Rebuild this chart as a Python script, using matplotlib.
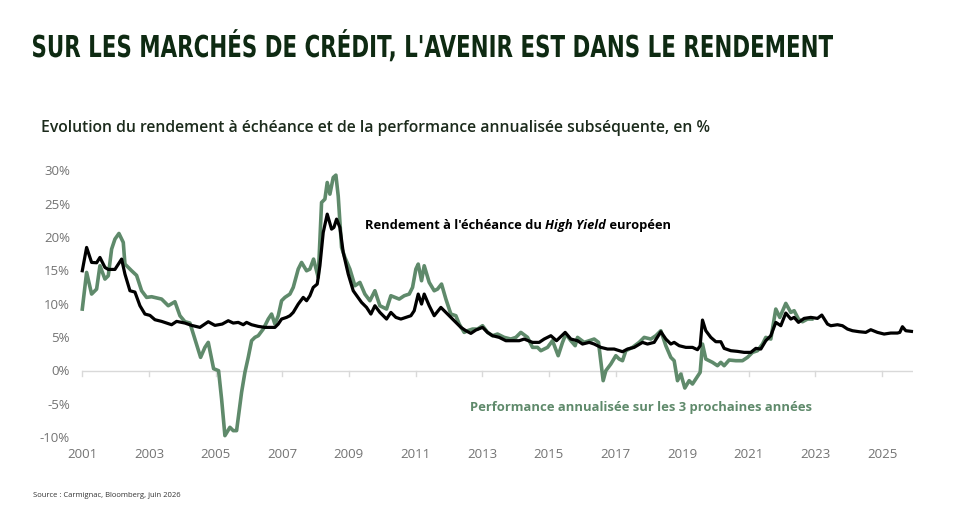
import matplotlib
matplotlib.use("Agg")
import matplotlib.pyplot as plt
from matplotlib.textpath import TextPath
from matplotlib.patches import PathPatch
from matplotlib.font_manager import FontProperties
from matplotlib.transforms import Affine2D, IdentityTransform

# -----------------------------
# DATA (decimal years / %)
# -----------------------------
yield_dates = [2001.0, 2001.13, 2001.28, 2001.43, 2001.53, 2001.68, 2001.78, 2001.98, 2002.18, 2002.28,
               2002.43, 2002.58, 2002.73, 2002.88, 2003.03, 2003.18, 2003.38, 2003.68, 2003.83, 2004.08,
               2004.28, 2004.53, 2004.78, 2004.98, 2005.2, 2005.38, 2005.53, 2005.68, 2005.83, 2005.93,
               2006.08, 2006.28, 2006.48, 2006.78, 2006.88, 2006.98, 2007.13, 2007.23, 2007.33, 2007.48,
               2007.63, 2007.73, 2007.83, 2007.93, 2008.05, 2008.13, 2008.23, 2008.35, 2008.48, 2008.55,
               2008.63, 2008.73, 2008.83, 2008.98, 2009.13, 2009.31, 2009.38, 2009.53, 2009.66, 2009.78,
               2009.93, 2010.13, 2010.26, 2010.41, 2010.56, 2010.71, 2010.86, 2010.96, 2011.08, 2011.18,
               2011.26, 2011.41, 2011.56, 2011.76, 2011.96, 2012.16, 2012.36, 2012.51, 2012.66, 2012.81,
               2013.01, 2013.16, 2013.31, 2013.51, 2013.71, 2013.91, 2014.11, 2014.26, 2014.51, 2014.71,
               2014.86, 2015.06, 2015.23, 2015.49, 2015.66, 2015.86, 2016.01, 2016.21, 2016.36, 2016.56,
               2016.76, 2016.96, 2017.21, 2017.36, 2017.56, 2017.81, 2017.96, 2018.16, 2018.36, 2018.51,
               2018.66, 2018.76, 2018.91, 2019.11, 2019.31, 2019.46, 2019.54, 2019.61, 2019.71, 2019.86,
               2020.01, 2020.16, 2020.26, 2020.46, 2020.66, 2020.86, 2021.06, 2021.21, 2021.36, 2021.51,
               2021.66, 2021.81, 2021.96, 2022.11, 2022.26, 2022.36, 2022.49, 2022.66, 2022.86, 2023.06,
               2023.19, 2023.36, 2023.46, 2023.66, 2023.81, 2023.96, 2024.11, 2024.31, 2024.51, 2024.66,
               2024.86, 2025.06, 2025.26, 2025.46, 2025.53, 2025.61, 2025.71, 2025.88]
yield_vals = [15.0, 18.5, 16.25, 16.2, 17.0, 15.5, 15.2, 15.2, 16.75, 14.5,
              12.0, 11.8, 9.75, 8.5, 8.3, 7.65, 7.4, 6.9, 7.4, 7.15,
              6.8, 6.5, 7.35, 6.8, 7.0, 7.5, 7.15, 7.25, 6.9, 7.25,
              6.9, 6.65, 6.5, 6.5, 7.0, 7.75, 8.0, 8.25, 8.75, 10.0,
              11.0, 10.5, 11.25, 12.5, 13.0, 15.75, 20.75, 23.5, 21.25, 21.5,
              22.75, 21.5, 17.75, 14.5, 12.0, 10.75, 10.25, 9.5, 8.5, 9.75,
              8.75, 7.75, 8.75, 8.0, 7.75, 8.0, 8.25, 9.0, 11.5, 10.0,
              11.5, 9.75, 8.25, 9.5, 8.5, 7.5, 6.5, 6.0, 5.6, 6.1,
              6.5, 5.75, 5.25, 5.0, 4.5, 4.5, 4.5, 4.75, 4.25, 4.25,
              4.75, 5.25, 4.5, 5.75, 4.75, 4.5, 4.0, 4.25, 4.0, 3.5,
              3.25, 3.25, 2.85, 3.25, 3.5, 4.25, 4.0, 4.25, 5.85, 4.75,
              4.0, 4.25, 3.75, 3.5, 3.5, 3.15, 3.75, 7.6, 6.0, 5.0,
              4.35, 4.35, 3.35, 3.0, 2.9, 2.75, 2.75, 3.35, 3.25, 4.5,
              5.25, 7.25, 6.75, 8.65, 7.75, 8.0, 7.25, 7.85, 8.0, 7.85,
              8.35, 7.0, 6.75, 6.9, 6.75, 6.25, 6.0, 5.85, 5.75, 6.15,
              5.75, 5.5, 5.65, 5.65, 5.75, 6.6, 6.0, 5.9]

perf_dates = [2001.0, 2001.13, 2001.28, 2001.43, 2001.53, 2001.68, 2001.78, 2001.88, 2001.98, 2002.1,
              2002.23, 2002.28, 2002.48, 2002.63, 2002.78, 2002.93, 2003.08, 2003.38, 2003.58, 2003.78,
              2003.93, 2004.08, 2004.23, 2004.38, 2004.55, 2004.68, 2004.78, 2004.94, 2005.09, 2005.18,
              2005.28, 2005.43, 2005.53, 2005.63, 2005.78, 2005.88, 2005.98, 2006.08, 2006.18, 2006.28,
              2006.43, 2006.58, 2006.68, 2006.78, 2006.88, 2006.98, 2007.08, 2007.23, 2007.33, 2007.48,
              2007.58, 2007.73, 2007.83, 2007.94, 2008.08, 2008.18, 2008.28, 2008.35, 2008.43, 2008.53,
              2008.61, 2008.68, 2008.78, 2008.88, 2009.03, 2009.18, 2009.33, 2009.48, 2009.63, 2009.78,
              2009.93, 2010.13, 2010.26, 2010.51, 2010.66, 2010.81, 2010.91, 2011.01, 2011.08, 2011.18,
              2011.26, 2011.41, 2011.56, 2011.66, 2011.78, 2011.91, 2012.06, 2012.21, 2012.31, 2012.46,
              2012.56, 2012.71, 2012.86, 2013.01, 2013.16, 2013.31, 2013.46, 2013.66, 2013.86, 2014.01,
              2014.16, 2014.36, 2014.51, 2014.66, 2014.76, 2014.96, 2015.11, 2015.28, 2015.41, 2015.51,
              2015.66, 2015.79, 2015.86, 2016.06, 2016.21, 2016.36, 2016.49, 2016.63, 2016.71, 2016.86,
              2017.01, 2017.11, 2017.21, 2017.31, 2017.51, 2017.71, 2017.86, 2018.06, 2018.21, 2018.36,
              2018.51, 2018.66, 2018.76, 2018.86, 2018.96, 2019.08, 2019.21, 2019.31, 2019.44, 2019.54,
              2019.61, 2019.71, 2019.91, 2020.06, 2020.16, 2020.26, 2020.41, 2020.61, 2020.81, 2020.96,
              2021.11, 2021.26, 2021.41, 2021.51, 2021.66, 2021.81, 2021.93, 2022.11, 2022.26, 2022.36,
              2022.49, 2022.61, 2022.76, 2022.89]
perf_vals = [9.25, 14.75, 11.5, 12.25, 15.75, 13.75, 14.25, 18.25, 19.75, 20.6,
             19.25, 16.0, 15.0, 14.3, 12.0, 11.0, 11.1, 10.75, 9.75, 10.35,
             8.25, 7.35, 7.15, 4.75, 2.0, 3.5, 4.25, 0.3, 0.0, -4.25,
             -9.75, -8.5, -9.0, -9.0, -3.25, -0.25, 2.0, 4.5, 5.0, 5.25,
             6.25, 7.75, 8.5, 7.0, 8.25, 10.5, 11.0, 11.5, 12.5, 15.25,
             16.25, 15.0, 15.25, 16.75, 14.0, 25.25, 25.75, 28.25, 26.5, 29.0,
             29.35, 26.2, 18.5, 17.0, 15.25, 12.75, 13.25, 11.5, 10.5, 12.0,
             9.75, 9.25, 11.25, 10.75, 11.25, 11.5, 12.5, 15.25, 16.0, 13.5,
             15.75, 13.25, 12.0, 12.25, 13.0, 10.75, 8.5, 8.25, 7.0, 5.75,
             6.0, 6.25, 6.25, 6.75, 5.75, 5.25, 5.5, 5.0, 4.75, 5.0,
             5.75, 5.0, 3.5, 3.5, 3.0, 3.5, 4.5, 2.25, 4.25, 5.5,
             4.5, 3.75, 5.0, 4.25, 4.5, 4.75, 4.25, -1.5, 0.0, 1.0,
             2.25, 1.75, 1.5, 3.0, 3.5, 4.25, 5.0, 4.75, 5.25, 6.0,
             3.75, 2.0, 1.5, -1.5, -0.5, -2.6, -1.5, -2.0, -1.0, -0.25,
             4.0, 1.75, 1.25, 0.75, 1.25, 0.75, 1.6, 1.5, 1.5, 2.0,
             2.75, 3.0, 4.0, 5.0, 4.75, 9.25, 8.0, 10.1, 8.75, 9.0,
             7.75, 7.35, 7.75, 7.75]

year_ticks = list(range(2001, 2026, 2))
pct_ticks = [30, 25, 20, 15, 10, 5, 0, -5, -10]

TITLE = "SUR LES MARCHÉS DE CRÉDIT, L'AVENIR EST DANS LE RENDEMENT"
SUBTITLE = "Evolution du rendement à échéance et de la performance annualisée subséquente, en %"
SOURCE = "Source : Carmignac, Bloomberg, juin 2026"

GREEN = "#5f8a6b"
DARK = "#0e2a12"
GREY = "#737373"

W, H = 959, 506

plt.rcParams['font.family'] = ['Open Sans', 'DejaVu Sans']

# -----------------------------
# FIGURE
# -----------------------------
fig = plt.figure(figsize=(W / 100, H / 100), dpi=100)
ax = fig.add_axes([0.0858, 0.1206, 0.866, 0.553])
ax.set_xlim(2001, 2025.92)
ax.set_ylim(-11, 31)
ax.axis('off')

# zero line with small year ticks
ax.axhline(0, color="#d9d9d9", lw=1.0, zorder=1)
for yr in year_ticks:
    ax.plot([yr, yr], [0, -0.75], color="#d9d9d9", lw=1.0, clip_on=False, zorder=1)
    ax.text(yr, -12.5, str(yr), ha='center', va='center', fontsize=9.5,
            color=GREY, clip_on=False)

for p in pct_ticks:
    ax.text(2001 - 0.37, p, f"{p}%", ha='right', va='center', fontsize=9.5,
            color=GREY, clip_on=False)

ax.plot(perf_dates, perf_vals, color=GREEN, lw=2.6, clip_on=False, zorder=2,
        solid_joinstyle='round')
ax.plot(yield_dates, yield_vals, color="black", lw=2.3, clip_on=False, zorder=3,
        solid_joinstyle='round')

# annotations
fig.canvas.draw()
renderer = fig.canvas.get_renderer()
pieces = [("Rendement à l'échéance du ", 'normal'), ("High Yield", 'italic'), (" européen", 'normal')]
x0, y0 = 365 / W, 1 - 226 / H
for txt, style in pieces:
    t = fig.text(x0, y0, txt, ha='left', va='center', fontsize=9.25,
                 fontweight='bold', style=style, color='black')
    x0 += t.get_window_extent(renderer).width / W

fig.text(470 / W, 1 - 408 / H, "Performance annualisée sur les 3 prochaines années",
         ha='left', va='center', fontsize=9.35, fontweight='bold', color=GREEN)

# title: condensed bold, squeezed from a text path to the reference box
fp = FontProperties(family='DejaVu Sans', weight='bold')
tp = TextPath((0, 0), TITLE, size=100, prop=fp)
cap = TextPath((0, 0), "H", size=100, prop=fp).get_extents().height
ext = tp.get_extents()
sx = 800 / ext.width
sy = 22 / cap
tr = Affine2D().translate(-ext.x0, 0).scale(sx, sy).translate(33, H - 58)
fig.add_artist(PathPatch(tr.transform_path(tp), transform=IdentityTransform(),
                         facecolor=DARK, edgecolor='none'))

fig.text(41 / W, 1 - 128 / H, SUBTITLE, ha='left', va='center', fontsize=11.3,
         fontweight='semibold', color="#1c2b1c")
fig.text(33 / W, 1 - 496 / H, SOURCE, ha='left', va='center', fontsize=5.5,
         color="#333333")

fig.savefig("out.png", dpi=100)
